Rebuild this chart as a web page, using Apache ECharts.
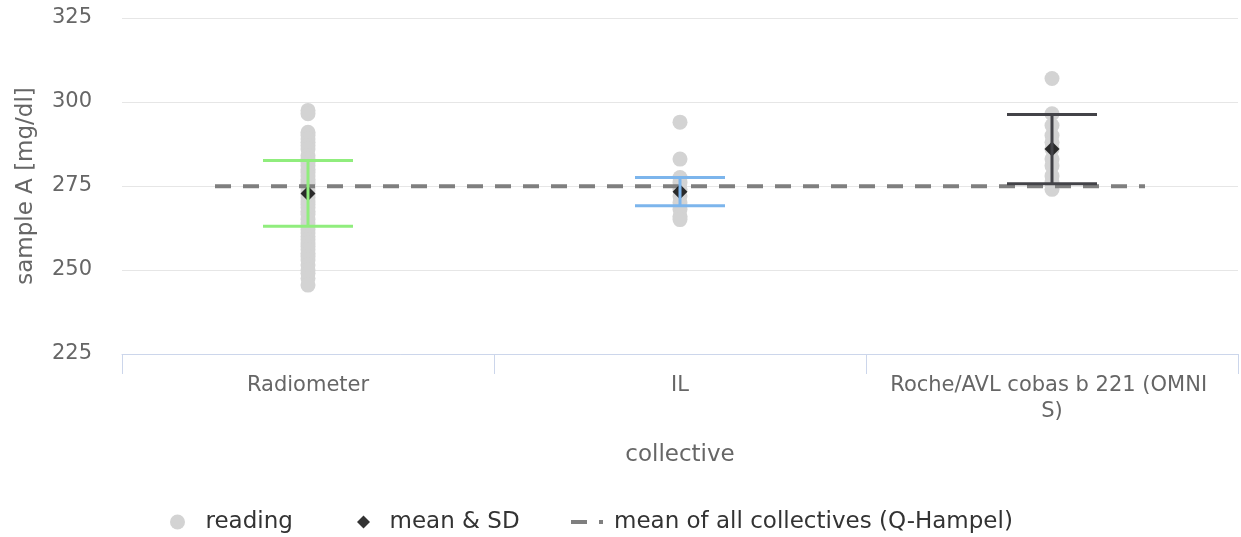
<!DOCTYPE html>
<html>
<head>
<meta charset="utf-8">
<script src="https://cdn.jsdelivr.net/npm/echarts@6/dist/echarts.min.js"></script>
<style>
  html, body { margin: 0; padding: 0; background: #ffffff; }
  #chart { width: 1241px; height: 537px; }
</style>
</head>
<body>
<div id="chart"></div>
<script>
// Collectives on the x axis
const collectives = ['Radiometer', 'IL', 'Roche/AVL cobas b 221 (OMNI S)'];

// Individual readings per collective [mg/dl]
const readingsRadiometer = [297.5, 296.5, 291, 290, 289, 288, 287, 286, 284, 283, 282, 281, 280, 279,
  278, 277, 276, 275.5, 274.5, 273.5, 272.5, 271.5, 270.5, 269.5, 268.5, 267.5, 266.5, 265, 264,
  263, 262, 261, 260, 259, 258, 257, 256, 255, 254, 253, 251.5, 250, 249, 247.5, 245.5];
const readingsIL = [294, 283, 277.5, 276, 274, 272, 270, 268, 266, 265];
const readingsRoche = [307, 296.5, 293, 290, 288, 286, 283, 281, 278, 276, 274];

// Mean and standard deviation per collective
const means = [272.8, 273.3, 286.0];
const sds = [9.8, 4.2, 10.3];

// Robust mean of all collectives (Q/Hampel)
const hampelMean = [274.9];

// Error bar colour per collective
const barColors = ['#90ed7d', '#7cb5ec', '#434348'];

const FONT = 'DejaVu Sans';
const legendText = { fontFamily: FONT, fontSize: 23, color: '#333333', lineHeight: 26 };

const readingsByCollective = [readingsRadiometer, readingsIL, readingsRoche];
const readingPoints = [];
readingsByCollective.forEach((vals, i) => vals.forEach(v => readingPoints.push([i, v])));
const meanPoints = means.map((m, i) => [i, m]);
const errorData = means.map((m, i) => [i, m - sds[i], m + sds[i]]);

const chart = echarts.init(document.getElementById('chart'), null, { renderer: 'canvas' });

chart.setOption({
  animation: false,
  textStyle: { fontFamily: FONT },
  grid: { left: 122, right: 3, top: 18, bottom: 183, containLabel: false },
  legend: [
    {
      left: 165, top: 504,
      itemWidth: 46, itemHeight: 15,
      textStyle: legendText,
      data: [{ name: 'reading', icon: 'circle' }]
    },
    {
      left: 352, top: 504,
      itemWidth: 42, itemHeight: 13,
      textStyle: legendText,
      data: [{ name: 'mean & SD', icon: 'path://M7,0L14,7L7,14L0,7Z' }]
    },
    {
      left: 566, top: 504,
      itemWidth: 32, itemHeight: 4,
      textStyle: Object.assign({}, legendText, { padding: [0, 0, 0, 6] }),
      data: [{ name: 'mean of all collectives (Q-Hampel)', icon: 'path://M0,0h16v4h-16zM28,0h4v4h-4z' }]
    }
  ],
  xAxis: [
    {
      type: 'category',
      data: collectives,
      name: 'collective',
      nameLocation: 'middle',
      nameGap: 90,
      nameTextStyle: { fontFamily: FONT, fontSize: 23, color: '#666666' },
      axisLine: { lineStyle: { color: '#ccd6eb', width: 1 } },
      axisTick: { show: true, interval: 0, length: 20, lineStyle: { color: '#ccd6eb' } },
      axisLabel: {
        interval: 0,
        fontFamily: FONT, fontSize: 21, color: '#666666', margin: 19,
        width: 336, overflow: 'break', lineHeight: 26
      },
      splitLine: { show: false }
    },
    {
      type: 'value',
      min: -0.5,
      max: 2.5,
      show: false
    }
  ],
  yAxis: {
    type: 'value',
    min: 225,
    max: 325,
    interval: 25,
    name: 'sample A [mg/dl]',
    nameLocation: 'middle',
    nameGap: 84,
    nameTextStyle: { fontFamily: FONT, fontSize: 23, color: '#666666' },
    axisLine: { show: false },
    axisTick: { show: false },
    axisLabel: { fontFamily: FONT, fontSize: 21, color: '#666666', margin: 30 },
    splitLine: { lineStyle: { color: '#e6e6e6', width: 1 } }
  },
  series: [
    {
      name: 'reading',
      type: 'scatter',
      xAxisIndex: 0,
      data: readingPoints,
      symbol: 'circle',
      symbolSize: 15,
      itemStyle: { color: '#d3d3d3', opacity: 1 },
      z: 2
    },
    {
      name: 'mean of all collectives (Q-Hampel)',
      type: 'line',
      xAxisIndex: 1,
      data: [[-0.25, hampelMean[0]], [2.25, hampelMean[0]]],
      symbol: 'none',
      lineStyle: { color: '#7f7f7f', width: 4, type: [16, 12] },
      itemStyle: { color: '#7f7f7f' },
      z: 3
    },
    {
      name: 'mean & SD',
      type: 'scatter',
      xAxisIndex: 0,
      data: meanPoints,
      symbol: 'diamond',
      symbolSize: [15, 15],
      itemStyle: { color: '#000000' },
      z: 4
    },
    {
      name: 'SD',
      type: 'custom',
      xAxisIndex: 0,
      data: errorData,
      encode: { x: 0, y: [1, 2] },
      z: 5,
      renderItem: function (params, api) {
        const x = api.value(0);
        const lo = api.coord([x, api.value(1)]);
        const hi = api.coord([x, api.value(2)]);
        const half = 45;
        const style = { stroke: barColors[params.dataIndex], lineWidth: 3, fill: null };
        return {
          type: 'group',
          children: [
            { type: 'line', shape: { x1: hi[0], y1: hi[1], x2: lo[0], y2: lo[1] }, style: style },
            { type: 'line', shape: { x1: hi[0] - half, y1: hi[1], x2: hi[0] + half, y2: hi[1] }, style: style },
            { type: 'line', shape: { x1: lo[0] - half, y1: lo[1], x2: lo[0] + half, y2: lo[1] }, style: style }
          ]
        };
      }
    }
  ]
});
</script>
</body>
</html>
